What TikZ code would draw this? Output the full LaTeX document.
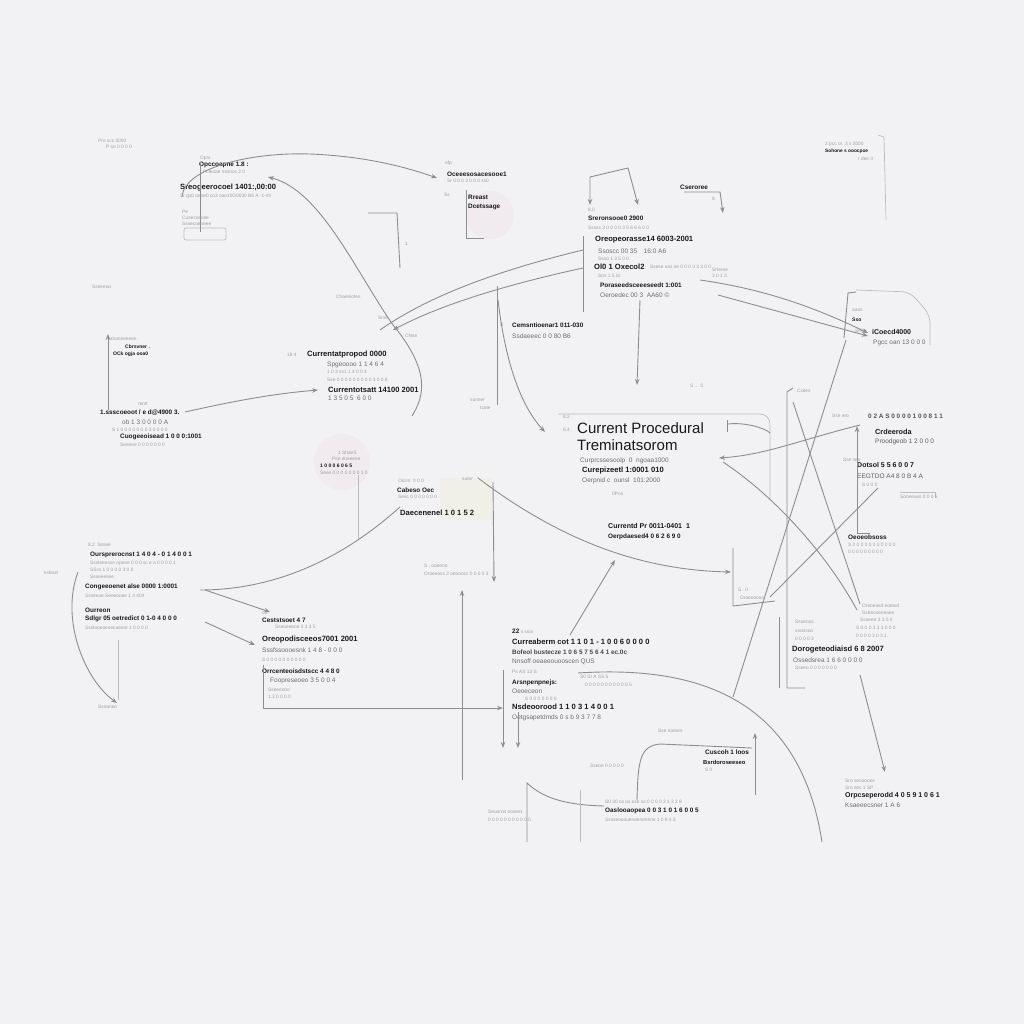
\documentclass[tikz,border=0pt]{standalone}
\usepackage{fontspec}
\setmainfont{Liberation Sans}
\usetikzlibrary{arrows.meta}
\definecolor{bg}{RGB}{242,241,243}
\definecolor{ln}{RGB}{142,142,145}
\definecolor{dk}{RGB}{25,25,25}
\definecolor{md}{RGB}{110,110,113}
\definecolor{lt}{RGB}{160,160,163}
\definecolor{glow}{RGB}{241,234,239}
\definecolor{glowy}{RGB}{241,240,232}
\tikzset{
 bt/.style={anchor=west,inner sep=0,text=dk,font=\bfseries\fontsize{7.6}{8}\selectfont},
 bs/.style={anchor=west,inner sep=0,text=dk,font=\bfseries\fontsize{6.4}{7}\selectfont},
 gt/.style={anchor=west,inner sep=0,text=md,font=\fontsize{6.5}{7}\selectfont},
 tt/.style={anchor=west,inner sep=0,text=lt,font=\fontsize{4.8}{5}\selectfont},
 big/.style={anchor=west,inner sep=0,text=black!90,font=\fontsize{15}{16}\selectfont},
 cn/.style={draw=ln,line width=0.9pt},
 fcn/.style={draw=lt!70,line width=0.7pt},
 ar/.style={cn,-{Stealth[length=6pt,width=4.5pt]}},
 ra/.style={cn,{Stealth[length=6pt,width=4.5pt]}-},
 ara/.style={cn,{Stealth[length=6pt,width=4.5pt]}-{Stealth[length=6pt,width=4.5pt]}},
}
\begin{document}
\begin{tikzpicture}[x=1pt,y=-1pt]
\fill[bg] (0,0) rectangle (1024,1024);
\useasboundingbox (0,0) rectangle (1024,1024);
% soft glows
\fill[glow] (490,215) circle (24);
\fill[glow] (342,462) circle (28);
\fill[glowy] (440,478) rectangle (492,520);

% ---------- top-left tiny
\node[tt] (tl1) at (98,141) {Pre scc 0000};
\node[tt] (tl2) at (106,147) {P se 0 0 0 0};
\node[tt] (tl3) at (92,287) {Sseeeoo};

% ---------- node A
\node[tt] (a0) at (200,158) {Oprx};
\node[bs] (a1) at (199,165) {Opccoapne 1.8 :};
\node[tt] (a2) at (203,172) {Pcleoae ssooos 2 0};
\node[bt] (a3) at (180,188) {Sreogeerocoel 1401:,00:00};
\node[tt] (a4) at (180,196) {Sr gs0 oeoe0 co3 oao10G0030 B6 A ·1-4h};
\node[tt] (a5) at (182,212) {Pe};
\node[tt] (a6) at (182,218) {Cusecoesee};
\node[tt] (a7) at (182,224) {Sssecoeneee};
\draw[fcn,rounded corners=2] (184,228) rectangle (226,240);
\draw[cn] (200,162) -- (200,232);

% ---------- node B
\node[tt] (b0) at (445,163) {ofp};
\node[bs] (b1) at (447,174) {Oceeesosacesooe1};
\node[tt] (b2) at (447,181) {Sr 0 0 0 3 0 0 0 ss0};
\node[tt] (b3) at (444,195) {Ss};
\node[bs] (b4) at (468,197) {Rreast};
\node[bs] (b5) at (468,207) {Dcetssage};
\draw[cn] (466,190) -- (466,238) -- (484,238);

% ---------- node C
\draw[ara] (590,205) -- (590,177) -- (628,168) -- (638,205);
\node[tt] (c0) at (588,210) {8.0};
\node[bs] (c1) at (588,218) {Sreronsooe0 2900};
\node[tt] (c2) at (588,228) {Sssss 3 0 0 0 0 3 5 6 6 6 0 0};
\node[bt] (c3) at (595,240) {Oreopeorasse14 6003-2001};
\node[gt] (c4) at (598,251) {Ssoscc 00 35\quad 16:0 A6};
\node[tt] (c5) at (598,259) {Ssoo 1 3 5 0 0};
\node[bt] (c6) at (594,267) {Ol0 1 Oxecol2};
\node[tt] (c6b) at (650,267) {Ssese sso oe 0 0 0 3 3 3 0 0};
\node[tt] (c7) at (598,276) {Sos 1 5 ss};
\node[bs] (c8) at (600,285) {Poraseedsceeeseedt 1:001};
\node[gt] (c9) at (600,295) {Oeroedec 00 3\ \ AA60 ©};
\node[tt] (c10) at (712,270) {SrIeroe};
\node[tt] (c11) at (712,276) {3 0 1 3};
\draw[cn] (583,236) -- (583,312);
\draw[ar] (640,300) -- (637,385);

% ---------- small node top right of C
\node[bs] (e1) at (680,187) {Cseroree};
\draw[ar] (684,192) -- (720,192) -- (723,213);
\node[tt] (e2) at (712,199) {8};

% ---------- top-right corner
\node[tt] (tr1) at (825,144) {2 pcc or. 3 s 0000};
\node[bs,font=\bfseries\fontsize{4.8}{5}\selectfont] (tr2) at (825,151) {Sohone s ooocpoe};
\node[tt] (tr3) at (858,159) {r dee 3};
\draw[fcn] (878,135) -- (884,137) -- (886,220);

% ---------- node D
\draw[cn] (856,292) -- (848,293) -- (844,338);
\draw[fcn,rounded corners=8] (856,290) -- (910,292) -- (930,315) -- (930,345);
\node[tt] (d0) at (852,310) {aaos};
\node[bs,font=\bfseries\fontsize{5}{5}\selectfont] (d1) at (852,320) {Sso};
\node[tt] (d2) at (855,331) {Sebe};
\node[bs,font=\bfseries\fontsize{7}{7}\selectfont] (d3) at (872,332) {iCoecd4000};
\node[gt] (d4) at (873,343) {Pgcc oan 13 0 0 0};
\draw[ar] (700,280) .. controls (770,290) and (820,310) .. (868,333);
\draw[ar] (718,295) -- (868,336);
\draw[cn] (846,340) -- (733,697);

% ---------- node E
\node[tt] (f0) at (287,355) {18 4};
\node[bt] (f1) at (307,355) {Currentatpropod 0000};
\node[gt] (f2) at (327,365) {Spgeoooo 1 1 4 6 4};
\node[tt] (f3) at (327,372) {1 0 3 ss1 1 4 0 0 4};
\node[tt] (f4) at (327,380) {Sse 0 0 0 0 0 0 0 0 0 3 0 0 8};
\node[bt] (f5) at (328,390) {Currentotsatt 14100 2001};
\node[gt] (f6) at (328,398) {1 3 5 0 5\ \ 6 0 0};
\node[tt] (f7) at (336,297) {Chaeniotes};
\node[tt] (f8) at (405,336) {CNse};
\node[tt] (f9) at (378,318) {Srse};
\draw[cn] (368,213) -- (397,213) -- (400,268);
\node[tt] (f10) at (405,244) {1};
% A curves
\draw[ar] (182,197) .. controls (184,168) and (250,152) .. (310,154) .. controls (360,156) and (400,165) .. (437,178);
\draw[ra] (268,177) .. controls (320,190) and (355,270) .. (393,325) .. controls (430,370) and (425,395) .. (412,416);
% C -> E lines
\draw[cn] (583,250) .. controls (500,270) and (430,295) .. (380,330);
\draw[ar] (583,268) .. controls (505,285) and (440,305) .. (393,330);

% ---------- node F
\draw[ra] (108,334) -- (108,410);
\node[tt] (g0) at (110,339) {shaneeeeen};
\node[bs,font=\bfseries\fontsize{5}{5}\selectfont] (g1) at (125,347) {Cbrsvner .};
\node[bs,font=\bfseries\fontsize{5}{5}\selectfont] (g2) at (113,354) {OCk ogja ooa0};
\node[tt] (g3) at (138,404) {rentt};
\node[bs] (g4) at (100,413) {1.ssscoeoot / e d@4900 3.};
\node[gt] (g5) at (122,422) {ob 1 3 0 0 0 0 A};
\node[tt] (g6) at (112,430) {S 1 0 0 0 0 0 0 0 3 0 0 0 0};
\node[bs] (g7) at (120,437) {Cuogeeoisead 1 0 0 0:1001};
\node[tt] (g8) at (120,445) {Seeeee 0 0 0 0 0 0 0};
\draw[ar] (185,412) .. controls (230,402) and (270,394) .. (318,390);

% ---------- node G
\node[tt] (h0) at (500,325) {S};
\node[bs] (h1) at (512,325) {Cemsntioenar1 011-030};
\node[gt] (h2) at (512,336) {Ssdaeeec 0 0 80 B6};
\draw[cn] (497,286) -- (497,405);
\node[tt] (h3) at (470,400) {sunner};
\node[tt] (h4) at (480,408) {tcote};
\draw[ar] (498,300) .. controls (505,360) and (520,405) .. (545,432);

% ---------- node H (main)
\draw[fcn,rounded corners=10] (558,414) -- (770,414) -- (770,500);
\node[tt] (m0) at (563,417) {8.2};
\node[tt] (m0b) at (563,430) {8.4};
\node[big] (m1) at (577,428) {Current Procedural};
\node[big] (m2) at (577,445) {Treminatsorom};
\node[gt] (m3) at (580,461) {Curprcssesoolp\ \ 0\ \ ngoaa1000};
\node[bt] (m4) at (582,471) {Curepizeetl 1:0001 010};
\node[gt] (m5) at (582,481) {Oerpnid c\ \ ounsl\ \ 101:2000};
\node[tt] (m6) at (612,494) {0Pos};
\node[tt] (m7) at (690,386) {S ... 0};
\draw[cn] (727,420) -- (727,432);
\draw[cn] (728,424) .. controls (745,422) and (765,428) .. (770,433);

% ---------- node I
\node[bs,font=\bfseries\fontsize{7}{7}\selectfont] (i1) at (608,526) {Currentd Pr 0011-0401\ \ 1};
\node[bs] (i2) at (608,537) {Oerpdaesed4 0 6 2 6 9 0};

% ---------- node J
\node[tt] (j0) at (338,453) {1 ShaeS};
\node[tt] (j1) at (332,459) {Pse eneeeee};
\node[bs,font=\bfseries\fontsize{5}{5}\selectfont] (j2) at (320,466) {1 0 0 0 6 0 6 5};
\node[tt] (j3) at (320,473) {Seee 0 0 0 0 0 0 0 3 0};
\draw[fcn] (358,475) -- (358,540);

% ---------- node K
\node[tt] (k0) at (398,481) {Oicsn\ \ 0 0 0};
\node[bs] (k1) at (397,490) {Cabeso Oec};
\node[tt] (k2) at (398,497) {Seec 0 0 0 0 0 0 0};
\node[bt] (k3) at (400,513) {Daecenenel 1 0 1 5 2};
\node[tt] (k4) at (462,479) {sutor};
\draw[ar] (478,478) .. controls (560,540) and (640,570) .. (731,572);
\draw[ar] (493,482) -- (494,582);
\draw[cn] (400,507) .. controls (330,570) and (260,590) .. (200,590);
\node[tt] (k5) at (424,566) {S . ooeeno};
\node[tt] (k6) at (424,574) {Oroeeoss 2 oeooosc 0 0 0 0 3};
\draw[ra] (462,590) -- (462,780);

% ---------- node L
\node[tt] (l0) at (88,545) {8.2\ \ Sssee};
\node[bs] (l1) at (90,555) {Oursprerocnst 1 4 0 4 - 0 1 4 0 0 1};
\node[tt] (l2) at (90,563) {Sssteeesse opeee 0 0 0 sc e a 0 0 0 0 1};
\node[tt] (l3) at (90,570) {SSss 1 0 0 0 0 3 0 0};
\node[tt] (l4) at (90,577) {Ssseeesee};
\node[bs] (l5) at (85,587) {Congeeoenet alse 0000 1:0001};
\node[tt] (l6) at (85,596) {Ssseeoe Seeeooee 1 4 404};
\node[bs] (l7) at (85,610) {Ourreon};
\node[bs] (l8) at (85,619) {Sdlgr 05 oetredict 0 1-0 4 0 0 0};
\node[tt] (l9) at (85,628) {Ssolooeoeoecaeonr 1 0 0 0 0};
\node[tt] (l10) at (44,573) {ksfeon};
\node[tt] (l11) at (98,707) {Ssoaneo};
\draw[ar] (78,572) .. controls (60,620) and (85,680) .. (117,703);
\draw[fcn] (118,640) -- (118,700);
\draw[ar] (205,590) -- (270,612);
\draw[ar] (205,622) -- (255,645);

% ---------- node M
\node[tt] (n0) at (262,613) {ob};
\node[bs] (n1) at (262,620) {Ceststsoet 4 7};
\node[tt] (n2) at (275,627) {Sseoeeeoe 3 3 3 5};
\node[bt] (n3) at (262,640) {Oreopodisceeos7001 2001};
\node[gt] (n4) at (262,650) {Sssfssoooesnk 1 4 8 - 0 0 0};
\node[tt] (n5) at (262,660) {S 0 0 0 0 0 0 0 0 0 0};
\node[bs] (n6) at (262,671) {Orrcenteoisdstscc 4 4 8 0};
\node[gt] (n7) at (270,681) {Foopreseoeo 3 5 0 0 4};
\node[tt] (n8) at (268,690) {Sseeeooo};
\node[tt] (n9) at (268,697) {1.3 0 0 0 0};
\draw[ar] (263,665) -- (263,708) -- (503,708);

% ---------- node N
\node[bs] (o0) at (512,631) {22 \textmd{\textcolor{lt}{\fontsize{4.6}{5}\selectfont s ssor}}};
\node[bt] (o1) at (512,642) {Curreaberm cot 1 1 0 1 - 1 0 0 6 0 0 0 0};
\node[bs,text=dk!80] (o2) at (512,652) {Bofeol bustecze 1 0 6 5 7 5 6 4 1 ec.0c};
\node[gt] (o3) at (512,662) {Nnsoff oeaeeouooscen QUS};
\node[tt] (o4) at (512,672) {Ps AS 13 S};
\node[bs] (o5) at (512,683) {Arsnpenpnejs:};
\node[gt] (o6) at (512,691) {Oeoeceon};
\node[tt] (o7) at (525,699) {S 0 0 0 0 0 0 0};
\node[bt] (o8) at (512,707) {Nsdeoorood 1 1 0 3 1 4 0 0 1};
\node[gt] (o9) at (512,718) {Oetgsapetdmds 0 s b 9 3 7 7 8};
\node[tt] (o10) at (580,677) {S0 SI A SS 5};
\node[tt] (o11) at (585,685) {0 0 0 0 0 0 0 0 0 0 0 5};
\draw[ar] (503,670) -- (503,748);
\draw[ar] (518,712) -- (518,748);
\draw[ar] (570,635) -- (615,560);
\draw[cn] (578,673) .. controls (700,665) and (800,700) .. (822,842);

% ---------- node O
\node[tt] (q0) at (658,731) {Sse roeoes};
\node[bs] (q1) at (705,752) {Cuscoh 1 loos};
\node[bs,font=\bfseries\fontsize{5.8}{6}\selectfont] (q2) at (703,762) {Bsrdoroseeseo};
\node[tt] (q3) at (705,770) {S 0};
\node[tt] (q4) at (590,766) {Sseoe 0 0 0 0 0};
\draw[cn] (637,800) .. controls (638,760) and (640,746) .. (660,744) -- (752,748);
\draw[ra] (755,733) -- (755,795);

% ---------- node P
\node[tt] (p0) at (605,802) {S0 30 os os oce ss 0 0 0 0 3 1 3 2 8};
\node[bs] (p1) at (605,811) {Oaslooaopea 0 0 3 1 0 1 6 0 0 5};
\node[tt] (p2) at (605,820) {Sssseoooueneenenene 1 0 9 4 3};
\node[tt] (p3) at (488,812) {Seuoroo ooseet};
\node[tt] (p4) at (488,820) {0 0 0 0 0 0 0 0 0 0 0};
\draw[cn] (527,842) -- (527,783) .. controls (545,800) and (570,805) .. (604,806);
\draw[fcn] (580,790) -- (580,842);

% ---------- node near (733,570)
\draw[cn] (733,548) -- (733,606) -- (775,601);
\node[tt] (r0) at (738,590) {S . 0};
\node[tt] (r1) at (740,598) {Oroeoooso};

% ---------- node Q
\draw[cn] (793,388) -- (787,392) -- (787,688) -- (805,688);
\node[tt] (s0) at (797,391) {Cxites};
\draw[cn] (779,617) -- (779,688);
\node[tt] (s1) at (862,606) {Oreoeasd eotesd};
\node[tt] (s2) at (862,613) {Sstreoseeeaee};
\node[tt] (s3) at (860,620) {Ssoeee 3 3 0 0};
\node[tt] (s4) at (856,628) {S 0 0 0 3 3 3 0 0 0};
\node[tt] (s5) at (856,636) {0 0 0 0 3 0 3 1};
\node[tt] (s6) at (795,622) {Ssoeoos};
\node[tt] (s7) at (795,631) {ssoosoo};
\node[tt] (s8) at (795,639) {0 0 0 0 3};
\node[bt] (s9) at (792,650) {Dorogeteodiaisd 6 8 2007};
\node[gt] (s10) at (793,660) {Ossedsrea 1 6 6 0 0 0 0};
\node[tt] (s11) at (795,668) {Sseeo 0 0 0 0 0 0 0};
\draw[ar] (860,675) -- (885,772);

% ---------- node R
\node[tt] (u0) at (845,781) {Sro seooooos};
\node[tt] (u1) at (845,788) {Sro sec 1 SP};
\node[bs,font=\bfseries\fontsize{7}{7}\selectfont] (u2) at (845,796) {Orpcseperodd 4 0 5 9 1 0 6 1};
\node[gt] (u3) at (845,805) {Ksaeeecsner 1 A 6};

% ---------- node S
\node[bs,text=dk!75] (v0) at (868,416) {0 2 A S 0 0 0 0 1 0 0 8 1 1};
\node[tt] (v1) at (832,416) {Sse reo};
\node[bs,font=\bfseries\fontsize{7.3}{7}\selectfont] (v2) at (875,432) {Crdeeroda};
\node[gt,text=dk!70] (v3) at (875,442) {Proodgeob 1 2 0 0 0};
\node[tt] (v4) at (843,460) {Sse seo};
\node[bs,font=\bfseries\fontsize{7}{7}\selectfont] (v5) at (857,465) {Dotsol 5 5 6 0 0 7};
\node[gt,text=dk!70] (v6) at (857,476) {EEGTDO A4 8 0 B 4 A};
\node[tt] (v7) at (862,485) {S 0 0 0};
\draw[fcn] (900,492) -- (935,492) -- (935,498);
\node[tt] (v8) at (900,497) {Sooeeass 0 0 0 5};
\node[bs] (v9) at (848,537) {Oeoeobsoss};
\node[tt] (v10) at (848,545) {S 0 0 0 0 0 0 0 0 0 0 0};
\node[tt] (v11) at (848,552) {0 0 0 0 0 0 0 0 0};
\draw[ra] (857,426) -- (857,533) -- (870,533);
\draw[ar] (860,425) .. controls (800,440) and (765,455) .. (719,458);
\draw[cn] (723,462) .. controls (780,500) and (830,560) .. (857,610);
\draw[cn] (793,402) -- (860,604);
\draw[cn] (878,488) -- (770,597);
\end{tikzpicture}
\end{document}
